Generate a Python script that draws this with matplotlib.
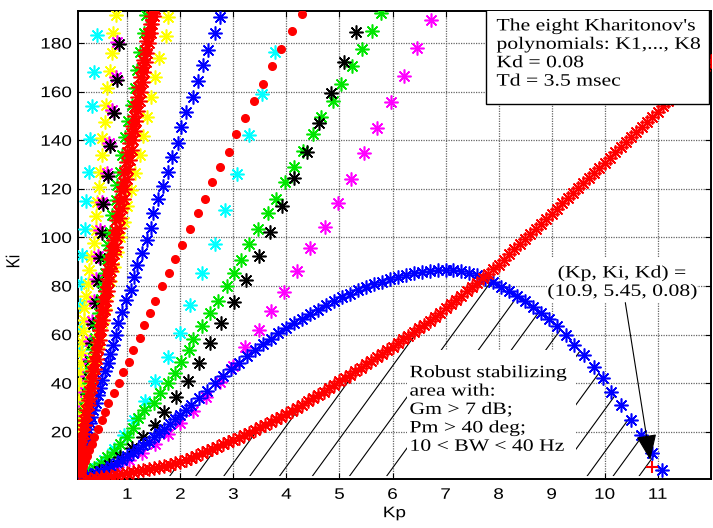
import numpy as np
import matplotlib
matplotlib.use("Agg")
import matplotlib.pyplot as plt
from matplotlib.patches import Polygon, Rectangle
from matplotlib.patheffects import AbstractPathEffect
from matplotlib.transforms import Affine2D

# Kp-Ki stability boundary points of the eight Kharitonov polynomials
kp_cyan_a = [0.42, 0.37, 0.335, 0.305, 0.27, 0.23, 0.21, 0.15, 0.13, 0.115, 0.10, 0.09, 0.085, 0.08, 0.08, 0.075, 0.075]
ki_cyan_a = [183.3, 168, 154, 140.4, 127, 115, 103.4, 92.8, 81.4, 72, 62.6, 53.7, 46, 38.5, 31, 24, 18]

kp_yellow_a = [0.78, 0.73, 0.71, 0.67, 0.62, 0.59, 0.57, 0.52, 0.52, 0.49, 0.46, 0.43, 0.40, 0.40, 0.37, 0.32, 0.28,
               0.25, 0.22, 0.19, 0.18, 0.16, 0.14, 0.13, 0.12, 0.11, 0.10, 0.095, 0.09, 0.085, 0.08]
ki_yellow_a = [191.5, 184, 176, 168.6, 161.4, 154.4, 147.5, 140.9, 134, 127, 120.7, 114.6, 108.8, 103, 97.7, 92, 86.5,
               81, 76, 71, 66, 61.5, 57, 52.5, 48.5, 44.5, 41, 37.5, 34, 31, 28]

kp_yellow_b = [1.76, 1.72, 1.59, 1.53, 1.45, 1.38, 1.30, 1.23, 1.14, 1.07, 1.0, 0.93, 0.86, 0.80, 0.74, 0.68, 0.62,
               0.57, 0.52, 0.47, 0.42, 0.38, 0.34, 0.30, 0.27, 0.24, 0.21, 0.19, 0.17, 0.15, 0.13, 0.12, 0.11, 0.10]
ki_yellow_b = [190.7, 183, 174, 166, 158, 149.6, 141.7, 134, 126.5, 119.5, 113, 106.5, 100, 94, 88, 82, 76,
               70.5, 65, 60, 55, 50, 45.5, 41, 37, 33, 29, 25.5, 22, 19, 16, 13.5, 11, 9]

kp_magenta_a = [0.81, 0.78, 0.71, 0.65, 0.61, 0.52, 0.49, 0.45, 0.41, 0.37, 0.33, 0.30, 0.27, 0.24, 0.21, 0.18, 0.16,
                0.14, 0.12, 0.10, 0.09, 0.08]
ki_magenta_a = [180.5, 166, 152.4, 138.8, 126.4, 114.7, 103, 92.5, 83, 74, 65.5, 57.5, 50, 43, 36.5, 30.5, 25,
                20, 15.5, 11.5, 8, 5]

kp_black_a = [0.84, 0.81, 0.74, 0.68, 0.64, 0.55, 0.52, 0.48, 0.44, 0.40, 0.36, 0.33, 0.30, 0.27, 0.24, 0.21, 0.19,
              0.17, 0.15, 0.13, 0.12, 0.11]
ki_black_a = [179.5, 165, 151.4, 137.8, 125.4, 113.7, 102, 91.5, 82, 73, 64.5, 56.5, 49, 42, 35.5, 29.5, 24,
              19, 14.5, 10.5, 7, 4]

kp_green_a = [1.36, 1.31, 1.23, 1.19, 1.14, 1.08, 1.01, 0.96, 0.90, 0.87, 0.81, 0.78, 0.71, 0.68, 0.64, 0.61, 0.58,
              0.54, 0.50, 0.46, 0.43, 0.39, 0.36, 0.32, 0.29, 0.27, 0.25, 0.22, 0.20, 0.18, 0.16, 0.14, 0.13, 0.12,
              0.11, 0.10, 0.09]
ki_green_a = [191.5, 184, 176.4, 169, 161.5, 154.5, 148, 141.4, 134, 127, 121.6, 115.4, 109.2, 102.3, 96.9, 91, 85.5,
              80, 74.5, 69, 64, 58.5, 54, 49, 44.5, 40, 36, 32, 28.5, 25.5, 22.5, 19.5, 17, 14.5, 12.5, 10.5, 8.5]

# dense red band next to the left axis (two neighbouring polynomials)
kp_red_a = [0.08, 0.09, 0.10, 0.13, 0.16, 0.19, 0.22, 0.25, 0.28, 0.31, 0.34, 0.37, 0.40, 0.43, 0.46, 0.49, 0.52,
            0.55, 0.58, 0.61, 0.64, 0.67, 0.70, 0.73, 0.76, 0.79, 0.82, 0.85, 0.88, 0.91, 0.94, 0.97, 1.00, 1.03,
            1.06, 1.09, 1.12, 1.15, 1.18, 1.21, 1.24, 1.27, 1.30, 1.33, 1.36, 1.39, 1.42, 1.45, 1.48, 1.51, 1.54]
ki_red_a = [4, 8, 12, 17, 21, 25, 29, 33, 37, 41, 45, 49, 53, 57, 62, 66, 70,
            74, 78, 83, 87, 91, 95, 99, 103, 107, 111, 115, 119, 123, 127, 131, 135, 139,
            143, 146, 150, 154, 158, 162, 166, 170, 173, 177, 181, 184, 188, 191, 194, 197, 200]
kp_red_b = [0.09, 0.11, 0.14, 0.18, 0.21, 0.24, 0.27, 0.30, 0.33, 0.36, 0.39, 0.42, 0.45, 0.48, 0.51, 0.54, 0.57,
            0.60, 0.63, 0.66, 0.69, 0.72, 0.75, 0.78, 0.81, 0.84, 0.87, 0.90, 0.93, 0.96, 0.99, 1.02, 1.05, 1.08,
            1.11, 1.14, 1.17, 1.20, 1.23, 1.26, 1.29, 1.32, 1.35, 1.38, 1.41, 1.44, 1.47, 1.50, 1.53, 1.56]
ki_red_b = [6, 10, 14, 19, 23, 27, 31, 34, 38, 42, 46, 50, 54, 58, 62, 66, 70,
            74, 78, 82, 86, 89, 93, 96, 100, 104, 108, 112, 116, 120, 124, 128, 132, 136,
            140, 144, 148, 152, 156, 160, 164, 168, 172, 176, 180, 184, 188, 191, 194, 197]

kp_dots_a = [1.48, 1.44, 1.38, 1.31, 1.26, 1.19, 1.15, 1.09, 1.03, 0.98, 0.92, 0.87, 0.82, 0.76, 0.71, 0.66, 0.62,
             0.59, 0.56, 0.52, 0.49, 0.46, 0.43, 0.40, 0.37, 0.34, 0.31, 0.28, 0.26, 0.23, 0.21, 0.19, 0.17, 0.15,
             0.13, 0.12, 0.11, 0.10]
ki_dots_a = [191, 184, 176.4, 169, 161.6, 154.5, 147.6, 141.1, 134, 127.2, 121, 115.4, 108.5, 102.3, 96.9, 91.4, 85.9,
             80.4, 75.6, 70.1, 65, 60, 55.5, 51, 46.5, 42.5, 38.5, 35, 31.5, 28, 25, 22, 19, 16.5, 14, 12, 10, 8]

kp_blue_a = [2.74, 2.65, 2.52, 2.43, 2.33, 2.23, 2.11, 2.02, 1.95, 1.85, 1.77, 1.67, 1.58, 1.48, 1.44, 1.38, 1.28,
             1.18, 1.12, 1.06, 0.98, 0.90, 0.82, 0.78, 0.73, 0.68, 0.63, 0.58, 0.53, 0.48, 0.44, 0.40, 0.36, 0.32,
             0.29, 0.26, 0.23, 0.20, 0.18, 0.16, 0.14, 0.13, 0.12, 0.11, 0.10, 0.09]
ki_blue_a = [190.6, 184, 177, 171, 164.5, 158, 151.5, 145.3, 139, 133, 127, 121, 115.7, 110, 104, 99, 93.5,
             88.6, 83.8, 78.4, 74.2, 69.4, 64.6, 59.8, 55.7, 52, 48.5, 45, 41.5, 38, 35, 32, 29, 26,
             23.5, 21, 18.5, 16.5, 14.5, 12.5, 10.5, 9, 7.5, 6, 4.5, 3]

kp_dots_b = [4.30, 4.10, 3.90, 3.73, 3.56, 3.39, 3.22, 3.05, 2.92, 2.74, 2.60, 2.47, 2.33, 2.19, 2.04, 1.89, 1.79,
             1.65, 1.53, 1.43, 1.31, 1.23, 1.11, 1.03, 0.92, 0.84, 0.74, 0.64, 0.58, 0.52, 0.44, 0.38, 0.33, 0.28,
             0.24, 0.20, 0.17, 0.14, 0.11]
ki_dots_b = [192, 185, 177.5, 170.7, 163, 156, 149.3, 142.4, 135.3, 129, 122.7, 115.7, 110, 103.5, 96.9, 91, 85.2,
             80, 74, 68.9, 64, 58.5, 53.7, 48.9, 44.7, 40.2, 35.8, 32, 28.3, 24.9, 21, 18, 15, 12.5,
             10, 8, 6, 4.5, 3]

kp_cyan_b = [3.78, 3.53, 3.30, 3.07, 2.85, 2.65, 2.40, 2.18, 1.99, 1.77, 1.53, 1.33, 1.13, 0.93, 0.74, 0.56, 0.40,
             0.26, 0.14]
ki_cyan_b = [176.4, 158.9, 142, 126.3, 111.3, 97.2, 85.2, 72.2, 60.5, 50.7, 41, 32.5, 25, 18.5, 13, 8.5, 5,
             2.5, 1]

kp_green_b = [5.79, 5.62, 5.43, 5.24, 5.03, 4.87, 4.66, 4.50, 4.31, 4.14, 3.98, 3.81, 3.66, 3.47, 3.29, 3.15, 3.02,
              2.87, 2.71, 2.55, 2.41, 2.24, 2.16, 2.02, 1.89, 1.77, 1.61, 1.50, 1.31, 1.21, 1.11, 0.99, 0.87, 0.74,
              0.62, 0.50, 0.38, 0.27, 0.16]
ki_green_b = [192.2, 185, 177.5, 170.7, 163, 156, 149.4, 142.4, 135.5, 129, 122.7, 115.8, 110, 103.5, 97.2, 90.7, 85.2,
              80, 74, 68.8, 63.5, 58.2, 53.7, 48.8, 44.3, 40.2, 36.1, 32, 29, 25.5, 21.4, 18, 15, 11.8,
              9.5, 7.3, 5.3, 3.5, 2]

kp_black_b = [5.31, 5.09, 4.84, 4.61, 4.38, 4.14, 3.91, 3.69, 3.48, 3.23, 3.01, 2.77, 2.55, 2.36, 2.14, 1.91, 1.70,
              1.52, 1.30, 1.08, 0.87, 0.66, 0.47, 0.29, 0.13]
ki_black_b = [184.7, 172, 159.6, 147.2, 135.3, 124.3, 113, 102.4, 92.3, 82.5, 73.5, 64.6, 56.7, 48.4, 40.9, 34.4, 28.3,
              22.8, 17.8, 13.4, 9.6, 6.4, 3.8, 1.9, 0.7]

kp_magenta_b = [6.73, 6.47, 6.22, 5.97, 5.71, 5.47, 5.22, 4.97, 4.72, 4.45, 4.20, 3.96, 3.71, 3.48, 3.21, 2.99, 2.75,
                2.49, 2.24, 1.99, 1.77, 1.52, 1.27, 1.03, 0.80, 0.58, 0.37, 0.18]
ki_magenta_b = [189.5, 177.8, 166.4, 155.8, 145.1, 134.6, 124, 114.3, 104.4, 95.5, 86.3, 77.7, 69.8, 61.9, 54.8, 47, 40.5,
                34.4, 28.7, 23.6, 19.2, 15.2, 11.5, 8.3, 5.6, 3.4, 1.8, 0.7]

# blue hump (upper limit of the robust region)
kp_blue_arc = [0.1, 0.2, 0.3, 0.4, 0.5, 0.6, 0.7, 0.8, 0.9, 1.0, 1.1, 1.2, 1.3, 1.4, 1.5, 1.6, 1.7, 1.8, 1.9, 2.0,
               2.1, 2.2, 2.35, 2.5, 2.65, 2.8, 2.95, 3.1, 3.25, 3.4, 3.55, 3.7, 3.85, 4.0, 4.15, 4.3, 4.45, 4.6,
               4.75, 4.9, 5.05, 5.2, 5.35, 5.5, 5.65, 5.8, 5.95, 6.1, 6.25, 6.4, 6.55, 6.7, 6.85, 7.0, 7.15, 7.3,
               7.45, 7.6, 7.75, 7.9, 8.05, 8.2, 8.35, 8.5, 8.65, 8.8, 8.95, 9.1, 9.27, 9.43, 9.61, 9.8, 9.96,
               10.12, 10.3, 10.49, 10.68, 10.9, 11.09]
ki_blue_arc = [0.9, 1.5, 2.2, 3.0, 3.9, 4.9, 6.0, 7.2, 8.5, 9.9, 11.3, 12.8, 14.4, 16, 17.7, 19.5, 21.3, 23.2, 25.1, 27,
               29, 31, 34, 37, 40, 43, 45.8, 48.5, 51.1, 53.6, 56, 58.3, 60.5, 62.6, 64.6, 66.5, 68.4, 70.2,
               72, 73.7, 75.3, 76.8, 78.2, 79.5, 80.7, 81.8, 82.8, 83.7, 84.5, 85.2, 85.8, 86.2, 86.5, 86.6, 86.5, 86.1,
               85.4, 84.4, 83.1, 81.5, 79.8, 78, 76, 73.8, 71.5, 69, 66.5, 63.5, 59.8, 55.7, 51.6, 46.8, 42,
               36.5, 31, 24.9, 18.7, 11.5, 4.3]

# red lower boundary
kp_red_low = [0.2, 0.3, 0.4, 0.5, 0.6, 0.7, 0.8, 0.9, 1.0, 1.1, 1.2, 1.3, 1.4, 1.5, 1.6, 1.7, 1.8, 1.9, 2.0,
              2.1, 2.2, 2.3, 2.4, 2.5, 2.6, 2.7, 2.8, 2.9, 3.0, 3.1, 3.2, 3.3, 3.4, 3.5, 3.6, 3.7, 3.8, 3.9, 4.0,
              4.1, 4.2, 4.3, 4.4, 4.5, 4.6, 4.7, 4.8, 4.9, 5.0, 5.1, 5.2, 5.3, 5.4, 5.5, 5.6, 5.7, 5.8, 5.9, 6.0,
              6.1, 6.2, 6.3, 6.4, 6.5, 6.6, 6.7, 6.8, 6.9, 7.0, 7.1, 7.2, 7.3, 7.4, 7.5, 7.6, 7.7, 7.8, 7.9, 8.0,
              8.1, 8.2, 8.3, 8.4, 8.5, 8.6, 8.7, 8.8, 8.9, 9.0, 9.1, 9.2, 9.3, 9.4, 9.5, 9.6, 9.7, 9.8, 9.9, 10.0,
              10.1, 10.2, 10.3, 10.4, 10.5, 10.6, 10.7, 10.8, 10.9, 11.0, 11.1, 11.2, 11.3, 11.4, 11.5, 11.6,
              11.7, 11.8, 11.9, 12.0]
ki_red_low = [0.4, 0.7, 1.0, 1.3, 1.6, 2.0, 2.3, 2.7, 3.0, 3.4, 3.8, 4.2, 4.6, 5.0, 5.4, 5.9, 6.5, 7.1, 7.7,
              8.5, 9.3, 10.2, 11.1, 12.0, 12.9, 13.8, 14.8, 15.7, 16.6, 17.6, 18.6, 19.6, 20.7, 21.8, 22.9, 24.0,
              25.1, 26.2, 27.4, 28.6, 29.9, 31.2, 32.5, 33.8, 35.2, 36.6, 38.0, 39.4, 40.8, 42.2, 43.6, 45.0, 46.4,
              47.8, 49.2, 50.6, 52.1, 53.6, 55.1, 56.6, 58.1, 59.6, 61.1, 62.6, 64.1, 65.7, 67.4, 69.1, 70.8, 72.5,
              74.2, 76.0, 77.8, 79.6, 81.4, 83.2, 85.0, 86.9, 88.8, 90.9, 93.0, 95.1, 97.2, 99.3, 101.4, 103.5,
              105.6, 107.7, 109.8, 111.9, 114.0, 116.1, 118.2, 120.3, 122.4, 124.5, 126.6, 128.7, 130.8, 132.9,
              135.0, 137.1, 139.2, 141.3, 143.4, 145.5, 147.6, 149.7, 151.8, 153.9, 156.0, 158.1, 160.2, 162.3,
              164.4, 166.5, 168.6, 170.7, 172.8]

kp_design = [10.9]
ki_design = [5.45]

x_ticks = list(range(1, 12))
y_ticks = list(range(20, 181, 20))

# hatch lines: Kp where each line leaves the floor of the region
hatch_x0 = [1.80, 2.29, 2.82, 3.31, 3.87, 4.49, 5.19, 5.89, 6.51, 7.16, 7.82, 8.48, 9.09, 9.67, 10.16, 10.65]


class Widen(AbstractPathEffect):
    """Draw text glyphs stretched along the text direction."""

    def __init__(self, sx=1.24, sy=1.0, anchor='left'):
        super().__init__()
        self.sx, self.sy, self.anchor = sx, sy, anchor

    def draw_path(self, renderer, gc, tpath, affine, rgbFace=None):
        ext = tpath.get_extents()
        x0 = {'left': 0.0, 'center': 0.5 * (ext.x0 + ext.x1), 'right': ext.x1}[self.anchor]
        t = Affine2D().translate(-x0, 0).scale(self.sx, self.sy).translate(x0, 0)
        renderer.draw_path(gc, tpath, t + affine, rgbFace)


plt.rcParams['font.family'] = ['Liberation Sans', 'DejaVu Sans']

fig = plt.figure(figsize=(7.13, 5.28), dpi=100)
ax = fig.add_axes([0.1094, 0.0919, 0.8874, 0.8873])
ax.set_xlim(0.07, 12.0)
ax.set_ylim(0.4, 193.2)
ax.set_axisbelow(True)
ax.grid(True, color='0.4', linestyle=(0, (1, 1)), linewidth=0.9)
ax.set_xticks(x_ticks)
ax.set_yticks(y_ticks)
ax.tick_params(direction='in', length=4, width=0.8, top=True, right=True, labelsize=11)
ax.tick_params(axis='x', pad=6)
ax.tick_params(axis='y', pad=4.5)
for lab in ax.get_xticklabels():
    lab.set_path_effects([Widen(anchor='center')])
for lab in ax.get_yticklabels():
    lab.set_path_effects([Widen(anchor='right')])
for sp in ax.spines.values():
    sp.set_linewidth(1.4)
ax.set_xlabel('Kp', fontsize=11, path_effects=[Widen(anchor='center')])
ax.set_ylabel('Ki', fontsize=11, path_effects=[Widen(sx=1.0, sy=1.24)])
ax.xaxis.set_label_coords(0.5, -0.057)
ax.yaxis.set_label_coords(-0.088, 0.465)

# hatched robust region under both red and blue boundaries
hatch_floor = 1.8
slope = 30.0
kp_edge = np.linspace(kp_red_low[0], kp_blue_arc[-1], 500)
top = np.minimum(np.interp(kp_edge, kp_red_low, ki_red_low), np.interp(kp_edge, kp_blue_arc, ki_blue_arc))
verts = [(kp_edge[0], hatch_floor)] + list(zip(kp_edge, top)) + [(kp_edge[-1], hatch_floor)]
region = Polygon(verts, closed=True, facecolor='none', edgecolor='none')
ax.add_patch(region)
for x0 in hatch_x0:
    ln, = ax.plot([x0, x0 + 120 / slope], [hatch_floor, hatch_floor + 120], color='k', lw=0.8, zorder=2)
    ln.set_clip_path(region)

star = (8, 2, 0)
ms = 10


def stars(x, y, c, z=3):
    ax.plot(x, y, linestyle='none', marker=star, markersize=ms, markeredgewidth=1.15, color=c, zorder=z)


stars(kp_cyan_a, ki_cyan_a, 'cyan')
stars(kp_yellow_a, ki_yellow_a, 'yellow')
stars(kp_magenta_a, ki_magenta_a, 'magenta')
stars(kp_black_a, ki_black_a, 'black')
stars(kp_green_a, ki_green_a, '#00e600')
stars(kp_yellow_b, ki_yellow_b, 'yellow')
stars(kp_cyan_b, ki_cyan_b, 'cyan')
stars(kp_green_b, ki_green_b, '#00e600')
stars(kp_black_b, ki_black_b, 'black')
stars(kp_magenta_b, ki_magenta_b, 'magenta')
stars(kp_blue_a, ki_blue_a, 'blue')
stars(kp_blue_arc, ki_blue_arc, 'blue')
stars(kp_red_a, ki_red_a, 'red', 4)
stars(kp_red_b, ki_red_b, 'red', 4)
stars(kp_red_low, ki_red_low, 'red', 4)
ax.plot(kp_dots_a, ki_dots_a, 'o', color='red', markersize=5.5, zorder=4)
ax.plot(kp_dots_b, ki_dots_b, 'o', color='red', markersize=5.5, zorder=4)
ax.plot(kp_design, ki_design, '+', color='red', markersize=9, markeredgewidth=1.5, zorder=5)

# text boxes
serif = dict(family='Liberation Serif', fontsize=12.5, linespacing=1.2)
ax.add_patch(Rectangle((6.28, 0.4), 3.18, 53.3, facecolor='white', edgecolor='none', zorder=2.5))
ax.text(6.32, 29, 'Robust stabilizing\narea with:\nGm > 7 dB;\nPm > 40 deg;\n10 < BW < 40 Hz',
        ha='left', va='center', zorder=6, path_effects=[Widen(sx=1.25)], **serif)

ax.add_patch(Rectangle((7.76, 154.8), 4.21, 40, facecolor='white', edgecolor='black', lw=1.0, zorder=6))
ax.text(7.96, 175.5, "The eight Kharitonov's\npolynomials: K1,..., K8\nKd = 0.08\nTd = 3.5 msec",
        ha='left', va='center', zorder=7, path_effects=[Widen(sx=1.25)], **serif)

ax.add_patch(Rectangle((8.92, 73), 2.82, 18.5, facecolor='white', edgecolor='none', zorder=2.5))
ax.annotate('(Kp, Ki, Kd) =\n(10.9, 5.45, 0.08)', xy=(kp_design[0] - 0.04, ki_design[0] + 3), xytext=(10.33, 81.4),
            ha='center', va='center', zorder=7, path_effects=[Widen(sx=1.25, anchor='center')],
            arrowprops=dict(arrowstyle='-|>,head_length=1.0,head_width=0.4', color='black', lw=0.8,
                            shrinkA=0, shrinkB=0, mutation_scale=16), **serif)

fig.savefig('out.png', dpi=100)
